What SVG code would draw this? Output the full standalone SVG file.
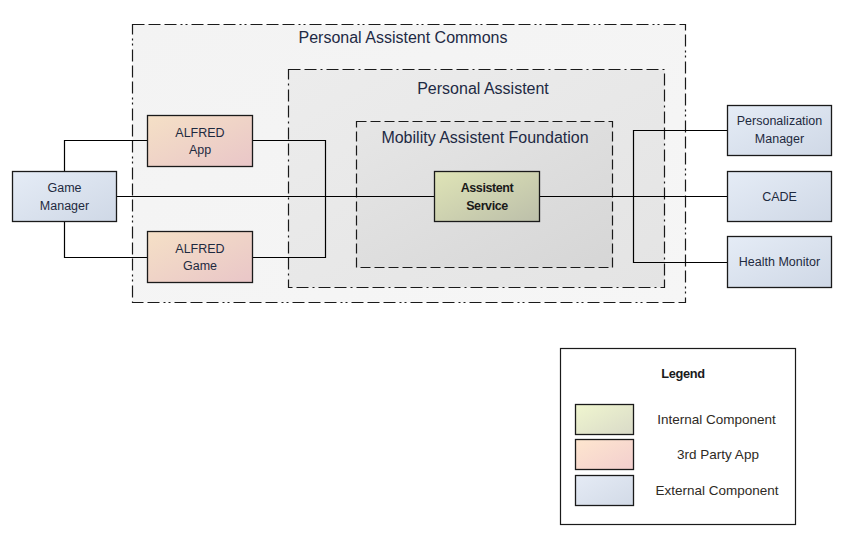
<svg xmlns="http://www.w3.org/2000/svg" width="854" height="556" viewBox="0 0 854 556">
<defs>
<linearGradient id="gOuter" x1="0" y1="0" x2="1" y2="1"><stop offset="0" stop-color="#f3f3f3"/><stop offset="1" stop-color="#f6f6f6"/></linearGradient>
<linearGradient id="gPA" x1="0" y1="0" x2="1" y2="1"><stop offset="0" stop-color="#ececec"/><stop offset="1" stop-color="#e4e4e4"/></linearGradient>
<linearGradient id="gMAF" x1="0" y1="0" x2="1" y2="1"><stop offset="0" stop-color="#e6e6e6"/><stop offset="1" stop-color="#d6d6d6"/></linearGradient>
<linearGradient id="gInt" x1="0" y1="0" x2="1" y2="1"><stop offset="0" stop-color="#dfe4b6"/><stop offset="1" stop-color="#bcbfaa"/></linearGradient>
<linearGradient id="g3rd" x1="0" y1="0" x2="1" y2="1"><stop offset="0" stop-color="#f5e0c6"/><stop offset="1" stop-color="#e9c6c8"/></linearGradient>
<linearGradient id="gExt" x1="0" y1="0" x2="1" y2="1"><stop offset="0" stop-color="#e5ecf6"/><stop offset="1" stop-color="#cfd8e6"/></linearGradient>
<linearGradient id="lInt" x1="0" y1="0" x2="1" y2="1"><stop offset="0" stop-color="#f0f6cf"/><stop offset="1" stop-color="#d9dac8"/></linearGradient>
<linearGradient id="l3rd" x1="0" y1="0" x2="1" y2="1"><stop offset="0" stop-color="#fee6cf"/><stop offset="1" stop-color="#f2cece"/></linearGradient>
<linearGradient id="lExt" x1="0" y1="0" x2="1" y2="1"><stop offset="0" stop-color="#e5ebf5"/><stop offset="1" stop-color="#d2dae7"/></linearGradient>
</defs>
<style>
text{font-family:"Liberation Sans",Arial,sans-serif;}
.node{stroke:#1a1a1a;stroke-width:1.3;}
.t{font-size:12.5px;fill:#1e2a40;text-anchor:middle;}
.tb{font-size:12.5px;font-weight:bold;fill:#1a1a1a;text-anchor:middle;letter-spacing:-0.4px;}
.title{font-size:16px;fill:#1e2a44;text-anchor:middle;}
.cont{stroke:#1a1a1a;stroke-width:1.2;}
.conn{fill:none;stroke:#000;stroke-width:1.2;}
.lg{font-size:13.5px;fill:#2e2a24;text-anchor:middle;}
</style>
<g id="commons">
<rect class="cont" x="132.5" y="24.5" width="553" height="278" fill="url(#gOuter)" stroke-dasharray="12,4,12,4,12,4,2,3,2,4"/>
<text class="title" x="403" y="43" font-size="16.4">Personal Assistent Commons</text>
</g>
<g id="personal-assistent">
<rect class="cont" x="288.5" y="69.5" width="376" height="218" fill="url(#gPA)" stroke-dasharray="12,4,12,4,2,4"/>
<text class="title" x="483" y="94">Personal Assistent</text>
</g>
<g id="mobility-foundation">
<rect class="cont" x="356.5" y="121.5" width="256" height="146" fill="url(#gMAF)" stroke-dasharray="10,4"/>
<text class="title" x="485" y="143" font-size="17">Mobility Assistent Foundation</text>
</g>
<g id="connectors">
<polyline class="conn" points="64.5,171 64.5,140.5 147,140.5"/>
<polyline class="conn" points="64.5,221 64.5,257.5 147,257.5"/>
<line class="conn" x1="116" y1="196.5" x2="434" y2="196.5"/>
<polyline class="conn" points="252,140.5 325.5,140.5 325.5,257.5 252,257.5"/>
<line class="conn" x1="539" y1="196.5" x2="727" y2="196.5"/>
<polyline class="conn" points="727,130.5 633.5,130.5 633.5,262.5 727,262.5"/>
</g>
<g id="game-manager">
<rect class="node" x="12.5" y="171.5" width="104" height="50" fill="url(#gExt)"/>
<text class="t" x="64.5" y="192" font-size="13">Game</text>
<text class="t" x="64.5" y="210" font-size="13">Manager</text>
</g>
<g id="alfred-app">
<rect class="node" x="147.5" y="115.5" width="105" height="51" fill="url(#g3rd)"/>
<text class="t" x="200" y="137" font-size="12">ALFRED</text>
<text class="t" x="200" y="154" font-size="13">App</text>
</g>
<g id="alfred-game">
<rect class="node" x="147.5" y="231.5" width="105" height="51" fill="url(#g3rd)"/>
<text class="t" x="200" y="253" font-size="12">ALFRED</text>
<text class="t" x="200" y="270" font-size="13">Game</text>
</g>
<g id="assistent-service">
<rect class="node" x="434.5" y="171.5" width="105" height="50" fill="url(#gInt)"/>
<text class="tb" x="487" y="192">Assistent</text>
<text class="tb" x="487" y="210">Service</text>
</g>
<g id="personalization-manager">
<rect class="node" x="727.5" y="105.5" width="104" height="50" fill="url(#gExt)"/>
<text class="t" x="779.5" y="125" font-size="13">Personalization</text>
<text class="t" x="779.5" y="143" font-size="13">Manager</text>
</g>
<g id="cade">
<rect class="node" x="727.5" y="171.5" width="104" height="50" fill="url(#gExt)"/>
<text class="t" x="779.5" y="201" font-size="12">CADE</text>
</g>
<g id="health-monitor">
<rect class="node" x="727.5" y="236.5" width="104" height="51" fill="url(#gExt)"/>
<text class="t" x="779.5" y="266" font-size="13.5">Health Monitor</text>
</g>
<g id="legend">
<rect x="560.5" y="348.5" width="235" height="176" fill="#fff" stroke="#1a1a1a" stroke-width="1.2"/>
<text x="683" y="378" font-size="12.8" font-weight="bold" fill="#1a1a1a" text-anchor="middle" letter-spacing="-0.3">Legend</text>
<rect class="node" x="575.5" y="404.5" width="58" height="30" fill="url(#lInt)"/>
<rect class="node" x="575.5" y="439.5" width="58" height="30" fill="url(#l3rd)"/>
<rect class="node" x="575.5" y="475.5" width="58" height="30" fill="url(#lExt)"/>
<text class="lg" x="716.5" y="424">Internal Component</text>
<text class="lg" x="718" y="459">3rd Party App</text>
<text class="lg" x="717" y="495">External Component</text>
</g>
</svg>
